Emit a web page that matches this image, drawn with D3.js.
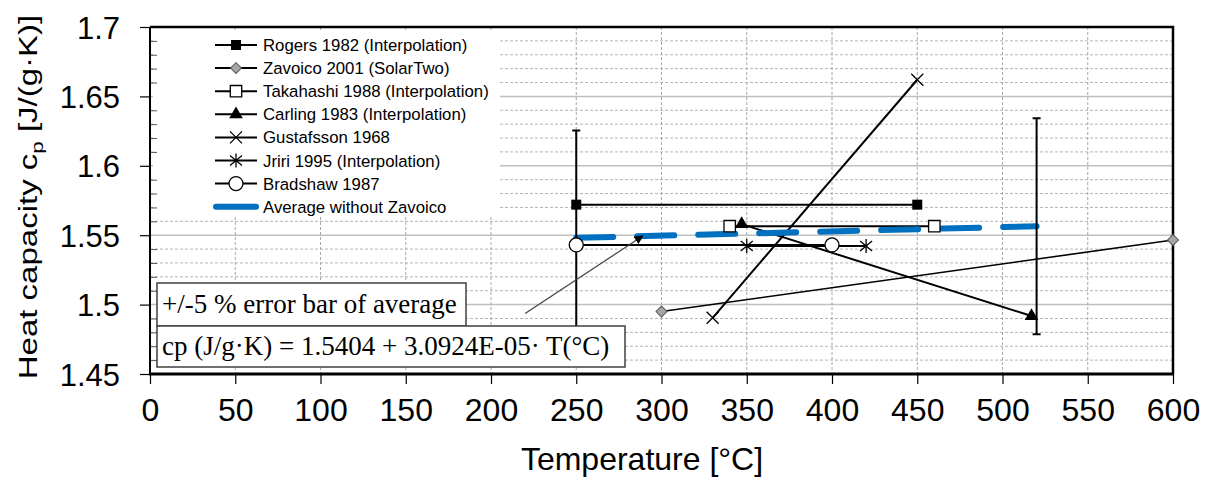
<!DOCTYPE html>
<html>
<head>
<meta charset="utf-8">
<script src="https://cdn.jsdelivr.net/npm/d3@7"></script>
<style>
  body { margin: 0; background: #fff; }
  svg { display: block; }
  .tick text { font-family: "Liberation Sans", Arial, sans-serif; fill: #000; }
</style>
</head>
<body>
<svg width="1206" height="479"></svg>
<script>
// ---- data ----
var xTicks = [0, 50, 100, 150, 200, 250, 300, 350, 400, 450, 500, 550, 600];
var yTicks = [1.45, 1.5, 1.55, 1.6, 1.65, 1.7];
var yTickLabels = ['1.45', '1.5', '1.55', '1.6', '1.65', '1.7'];

var rogers = [[250, 1.572], [450, 1.572]];
var zavoico = [[300, 1.495], [600, 1.5465]];
var takahashi = [[340, 1.5565], [460, 1.5565]];
var carling = [[347, 1.558], [517, 1.4918]];
var gustafsson = [[330, 1.4905], [450, 1.662]];
var jriri = [[350, 1.5422], [420, 1.5422]];
var bradshaw = [[250, 1.543], [400, 1.543]];
var average = [[250, 1.5481], [520, 1.5565]];
var errorFraction = 0.05;

var seriesNames = [
	'Rogers 1982 (Interpolation)',
	'Zavoico 2001 (SolarTwo)',
	'Takahashi 1988 (Interpolation)',
	'Carling 1983 (Interpolation)',
	'Gustafsson 1968',
	'Jriri 1995 (Interpolation)',
	'Bradshaw 1987',
	'Average without Zavoico'
];
var seriesMarkers = ['square', 'diamond', 'openSquare', 'triangle', 'cross', 'star', 'circle', null];
var seriesData = [rogers, zavoico, takahashi, carling, gustafsson, jriri, bradshaw, average];

var annotationLabels = ['+/-5 % error bar of average', 'cp (J/g\u00b7K) = 1.5404 + 3.0924E-05\u00b7 T(\u00b0C)'];
var arrowFrom = [220, 1.4935];
var arrowTo = [289, 1.5495];

( function() {

	// ---- layout ----
	var xLeft = 150, xRight = 1173, yTop = 27, yBottom = 374;
	var svg = d3.select( 'svg' );
	var x = d3.scaleLinear().domain( [0, 600] ).range( [xLeft, xRight] );
	var y = d3.scaleLinear().domain( [1.45, 1.7] ).range( [yBottom, yTop] );
	var sans = '"Liberation Sans", Arial, sans-serif';
	var serif = '"Liberation Serif", "Times New Roman", serif';

	// grid
	var grid = svg.append( 'g' );
	var minor = d3.range( 145, 171 ).map( function( d ) { return d / 100; } )
		.filter( function( d ) { return Math.round( d * 100 ) % 5 !== 0; } );
	grid.selectAll( 'line.minor' ).data( minor ).enter().append( 'line' )
		.attr( 'x1', xLeft ).attr( 'x2', xRight )
		.attr( 'y1', function( d ) { return y( d ); } ).attr( 'y2', function( d ) { return y( d ); } )
		.attr( 'stroke', '#b4b4b4' ).attr( 'stroke-width', 1 ).attr( 'stroke-dasharray', '3,2' );
	grid.selectAll( 'line.major' ).data( yTicks.slice( 1, -1 ) ).enter().append( 'line' )
		.attr( 'x1', xLeft ).attr( 'x2', xRight )
		.attr( 'y1', function( d ) { return y( d ); } ).attr( 'y2', function( d ) { return y( d ); } )
		.attr( 'stroke', '#c0c0c0' ).attr( 'stroke-width', 1.5 );
	grid.selectAll( 'line.vert' ).data( xTicks.slice( 1, -1 ) ).enter().append( 'line' )
		.attr( 'x1', function( d ) { return x( d ); } ).attr( 'x2', function( d ) { return x( d ); } )
		.attr( 'y1', yTop ).attr( 'y2', yBottom )
		.attr( 'stroke', '#a8a8a8' ).attr( 'stroke-width', 1 ).attr( 'stroke-dasharray', '3,2' );

	// legend background hides the grid behind it
	svg.append( 'rect' )
		.attr( 'x', 153 ).attr( 'y', 31 ).attr( 'width', 347 ).attr( 'height', 186 )
		.attr( 'fill', '#fff' );

	// axes
	var xAxis = svg.append( 'g' )
		.attr( 'transform', 'translate(0,' + yBottom + ')' )
		.call( d3.axisBottom( x ).tickValues( xTicks ).tickSize( 10 ).tickPadding( 14 ) );
	xAxis.select( '.domain' ).remove();
	xAxis.selectAll( '.tick line' ).attr( 'stroke', '#000' ).attr( 'stroke-width', 1.2 );
	xAxis.selectAll( '.tick text' ).attr( 'font-size', 32 ).attr( 'dy', '0.71em' );

	var yAxis = svg.append( 'g' )
		.attr( 'transform', 'translate(' + xLeft + ',0)' )
		.call( d3.axisLeft( y ).tickValues( yTicks ).tickFormat( function( d, i ) { return yTickLabels[ i ]; } )
			.tickSize( 10 ).tickPadding( 20 ) );
	yAxis.select( '.domain' ).remove();
	yAxis.selectAll( '.tick line' ).attr( 'stroke', '#000' ).attr( 'stroke-width', 1.2 );
	yAxis.selectAll( '.tick text' ).attr( 'font-size', 31 ).attr( 'dy', '0.36em' );

	var yMinor = svg.append( 'g' )
		.attr( 'transform', 'translate(' + xLeft + ',0)' )
		.call( d3.axisRight( y ).tickValues( minor ).tickSize( 7 ).tickFormat( '' ) );
	yMinor.select( '.domain' ).remove();
	yMinor.selectAll( '.tick line' ).attr( 'stroke', '#555' );

	// frame
	svg.append( 'path' )
		.attr( 'd', 'M' + xLeft + ',' + yTop + 'H' + xRight + 'V' + yBottom )
		.attr( 'fill', 'none' ).attr( 'stroke', '#000' ).attr( 'stroke-width', 2.5 );
	svg.append( 'line' ).attr( 'x1', xLeft - 1 ).attr( 'x2', xRight + 1 ).attr( 'y1', yBottom ).attr( 'y2', yBottom )
		.attr( 'stroke', '#000' ).attr( 'stroke-width', 3 );
	svg.append( 'line' ).attr( 'x1', xLeft ).attr( 'x2', xLeft ).attr( 'y1', yTop ).attr( 'y2', yBottom )
		.attr( 'stroke', '#000' ).attr( 'stroke-width', 2 );

	// axis titles
	svg.append( 'text' )
		.attr( 'x', 642 ).attr( 'y', 470 ).attr( 'text-anchor', 'middle' )
		.attr( 'font-family', sans ).attr( 'font-size', 32 )
		.text( 'Temperature [\u00b0C]' );

	var yTitle = svg.append( 'text' )
		.attr( 'transform', 'translate(37,197) rotate(-90) scale(1.32,1)' )
		.attr( 'text-anchor', 'middle' )
		.attr( 'font-family', sans ).attr( 'font-size', 25 );
	yTitle.append( 'tspan' ).text( 'Heat capacity c' );
	yTitle.append( 'tspan' ).attr( 'font-size', 17 ).attr( 'dy', 6 ).text( 'p' );
	yTitle.append( 'tspan' ).attr( 'dy', -6 ).text( ' [J/(g\u00b7K)]' );

	// markers
	function drawMarker( g, type, cx, cy ) {
		var m;
		if ( type === 'square' ) {
			m = g.append( 'path' ).attr( 'd', d3.symbol( d3.symbolSquare, 100 )() ).attr( 'fill', '#000' );
		} else if ( type === 'diamond' ) {
			m = g.append( 'path' ).attr( 'd', d3.symbol( d3.symbolSquare, 60 )() )
				.attr( 'fill', '#a6a6a6' ).attr( 'stroke', '#595959' ).attr( 'stroke-width', 1 );
			m.attr( 'transform', 'translate(' + cx + ',' + cy + ') rotate(45)' );
			return;
		} else if ( type === 'openSquare' ) {
			m = g.append( 'path' ).attr( 'd', d3.symbol( d3.symbolSquare, 130 )() )
				.attr( 'fill', '#fff' ).attr( 'stroke', '#000' ).attr( 'stroke-width', 1.3 );
		} else if ( type === 'triangle' ) {
			m = g.append( 'path' ).attr( 'd', d3.symbol( d3.symbolTriangle, 80 )() ).attr( 'fill', '#000' );
		} else if ( type === 'cross' ) {
			m = g.append( 'path' ).attr( 'd', 'M-6,-6L6,6M-6,6L6,-6' )
				.attr( 'stroke', '#000' ).attr( 'stroke-width', 1.3 ).attr( 'fill', 'none' );
		} else if ( type === 'star' ) {
			m = g.append( 'path' ).attr( 'd', 'M0,-7L0,7M-6,-5L6,5M-6,5L6,-5' )
				.attr( 'stroke', '#000' ).attr( 'stroke-width', 1.3 ).attr( 'fill', 'none' );
		} else if ( type === 'circle' ) {
			m = g.append( 'circle' ).attr( 'r', 7 )
				.attr( 'fill', '#fff' ).attr( 'stroke', '#000' ).attr( 'stroke-width', 1.3 );
		}
		m.attr( 'transform', 'translate(' + cx + ',' + cy + ')' );
	}

	var line = d3.line().x( function( d ) { return x( d[ 0 ] ); } ).y( function( d ) { return y( d[ 1 ] ); } );
	var plot = svg.append( 'g' );

	// series lines
	seriesData.slice( 0, 7 ).forEach( function( data, i ) {
		plot.append( 'path' ).attr( 'd', line( data ) )
			.attr( 'fill', 'none' ).attr( 'stroke', '#000' )
			.attr( 'stroke-width', i === 1 ? 1.6 : 2 );
	} );

	// average line
	plot.append( 'path' ).attr( 'd', line( average ) )
		.attr( 'fill', 'none' ).attr( 'stroke', '#0070c0' ).attr( 'stroke-width', 6 )
		.attr( 'stroke-linecap', 'round' ).attr( 'stroke-dasharray', '37,24' );

	// error bars of average
	average.forEach( function( p ) {
		var x0 = x( p[ 0 ] ),
			yHi = y( p[ 1 ] * ( 1 + errorFraction ) ),
			yLo = y( p[ 1 ] * ( 1 - errorFraction ) );
		plot.append( 'path' )
			.attr( 'd', 'M' + x0 + ',' + yHi + 'V' + yLo + 'M' + ( x0 - 4 ) + ',' + yHi + 'h8M' + ( x0 - 4 ) + ',' + yLo + 'h8' )
			.attr( 'fill', 'none' ).attr( 'stroke', '#000' ).attr( 'stroke-width', 2 );
	} );

	// series markers
	seriesData.slice( 0, 7 ).forEach( function( data, i ) {
		data.forEach( function( p ) {
			drawMarker( plot, seriesMarkers[ i ], x( p[ 0 ] ), y( p[ 1 ] ) );
		} );
	} );

	// legend
	var legend = svg.append( 'g' );
	seriesNames.forEach( function( name, i ) {
		var ly = 45 + i * 23.1;
		if ( seriesMarkers[ i ] ) {
			legend.append( 'line' ).attr( 'x1', 215 ).attr( 'x2', 257 ).attr( 'y1', ly ).attr( 'y2', ly )
				.attr( 'stroke', '#000' ).attr( 'stroke-width', 2 );
			drawMarker( legend, seriesMarkers[ i ], 236, ly );
		} else {
			legend.append( 'line' ).attr( 'x1', 216 ).attr( 'x2', 256 ).attr( 'y1', ly ).attr( 'y2', ly )
				.attr( 'stroke', '#0070c0' ).attr( 'stroke-width', 6 ).attr( 'stroke-linecap', 'round' );
		}
		legend.append( 'text' ).attr( 'x', 263 ).attr( 'y', ly ).attr( 'dy', '0.36em' )
			.attr( 'font-family', sans ).attr( 'font-size', 16.8 )
			.text( name );
	} );

	// annotation arrow
	var defs = svg.append( 'defs' );
	defs.append( 'marker' ).attr( 'id', 'arrow' )
		.attr( 'viewBox', '0 0 10 10' ).attr( 'refX', 9 ).attr( 'refY', 5 )
		.attr( 'markerWidth', 9 ).attr( 'markerHeight', 9 ).attr( 'orient', 'auto' )
		.attr( 'markerUnits', 'userSpaceOnUse' )
		.append( 'path' ).attr( 'd', 'M0,0L10,5L0,10z' ).attr( 'fill', '#000' );
	svg.append( 'line' )
		.attr( 'x1', x( arrowFrom[ 0 ] ) ).attr( 'y1', y( arrowFrom[ 1 ] ) )
		.attr( 'x2', x( arrowTo[ 0 ] ) ).attr( 'y2', y( arrowTo[ 1 ] ) )
		.attr( 'stroke', '#404040' ).attr( 'stroke-width', 1.2 ).attr( 'marker-end', 'url(#arrow)' );

	// annotation boxes
	var boxes = [
		{ x: 157, y: 283, w: 309, h: 43 },
		{ x: 157, y: 326, w: 468, h: 41 }
	];
	boxes.forEach( function( b, i ) {
		svg.append( 'rect' ).attr( 'x', b.x ).attr( 'y', b.y ).attr( 'width', b.w ).attr( 'height', b.h )
			.attr( 'fill', '#fff' ).attr( 'stroke', '#404040' ).attr( 'stroke-width', 1.5 );
		svg.append( 'text' ).attr( 'x', b.x + 5 ).attr( 'y', b.y + b.h / 2 ).attr( 'dy', '0.33em' )
			.attr( 'font-family', serif ).attr( 'font-size', 27 )
			.text( annotationLabels[ i ] );
	} );

} )();
</script>
</body>
</html>
